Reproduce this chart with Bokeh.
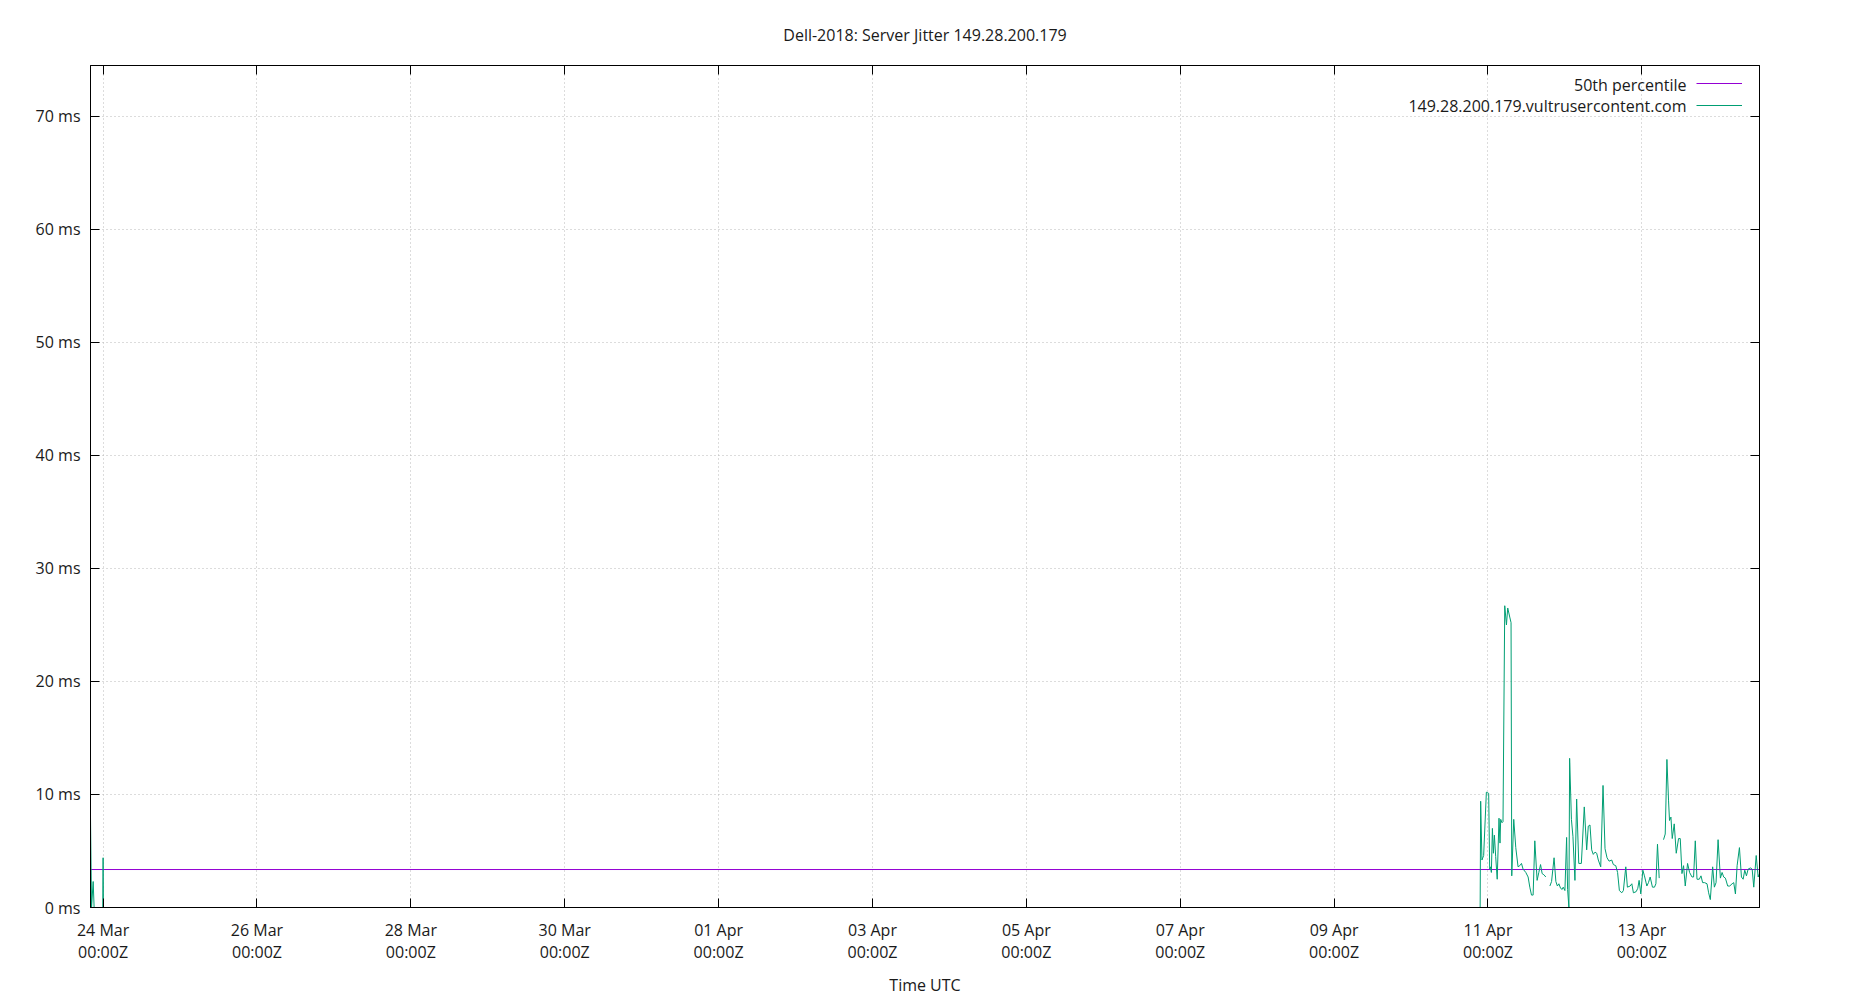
import numpy as np
import pandas as pd
from bokeh.plotting import figure
from bokeh.models import (Range1d, FixedTicker, CustomJSTickFormatter, PrintfTickFormatter,
                          LinearAxis, DatetimeAxis, Legend, LegendItem, Label)
from bokeh.embed import file_html
from bokeh.resources import INLINE

TITLE = "Dell-2018: Server Jitter 149.28.200.179"
HOST = "149.28.200.179.vultrusercontent.com"
MEDIAN_LABEL = "50th percentile"
X_LABEL = "Time UTC"

# Early samples around 24 Mar (hours relative to 24 Mar 00:00Z)
early_origin = "2024-03-24 00:00"
early_hours = [-3.93, -3.6, -3.1, -2.8, -0.1, 0.0, 0.1]
early_ms = [8.0, 0.0, 2.3, 0.0, 0.0, 4.4, 0.0]

# Main samples (hours relative to 11 Apr 00:00Z); None = gap
main_origin = "2024-04-11 00:00"
main_hours = [
    -2.44, -2.28, -1.88, -1.35, -0.50, 0.22, 0.53, 0.84, 1.06, 1.38,
    1.69, 2.00, 2.41, 2.88, 3.44, 3.75, 3.97, 4.38, 4.69, 5.23,
    5.76, 6.16, 6.79, 7.20, 7.42, 8.04, 8.67, 9.39, 9.92, 10.45,
    10.95, 11.80, 12.52, 13.05, 13.58, 14.08, 14.61, 15.33, 15.86, 16.40,
    16.90, 17.43, 18.05, 18.7, 19.31, 19.84, 20.62, 21.18, 21.65, 22.12,
    22.65, 23.15, 23.47, 24.00, 24.53, 24.84, 25.25, 25.47, 26.03, 26.50,
    27.13, 27.66, 28.32, 29.13, 30.04, 30.79, 31.29, 31.82, 32.35, 32.85,
    33.39, 33.92, 34.42, 35.17, 35.89, 36.51, 37.14, 37.77, 38.61, 39.11,
    39.86, 40.43, 40.99, 41.74, 42.24, 42.99, 43.49, 44.34, 44.87, 45.37,
    46.21, 46.74, 47.15, 47.68, 48.31, 48.81, 49.56, 50.06, 50.59, 51.31,
    51.94, 52.38, 52.88, 53.41, 54.0, 54.76, 55.29, 55.82, 56.32, 56.63,
    57.07, 57.48, 58.10, 58.73, 59.45, 59.98, 60.51, 61.01, 61.54, 62.26,
    62.89, 63.64, 64.14, 64.67, 65.20, 65.92, 66.45, 66.96, 67.58, 68.33,
    68.83, 69.36, 70.09, 70.62, 71.15, 71.78, 72.50, 73.03, 73.53, 74.06,
    74.78, 75.41, 76.16, 76.66, 77.19, 77.72, 78.44, 79.07, 79.60, 80.10,
    80.63, 81.16, 81.88, 82.41, 82.91, 83.67, 84.29, 84.70,
]
main_ms = [
    0.0, 9.4, 4.2, 4.6, 10.2, 10.1, 3.4, 3.6, 3.1, 7.0,
    4.8, 6.4, 4.5, 2.5, 7.9, 5.7, 7.8, 7.5, 7.6, 26.7,
    25.0, 26.5, 25.7, 25.2, 2.8, 7.8, 5.3, 3.6, 3.7, 3.9,
    3.4, 3.1, 2.7, 1.8, 1.1, 1.1, 5.9, 2.4, 3.1, 3.8,
    3.0, 2.9, 2.7, None, 1.9, 2.3, 4.4, 2.3, 1.9, 2.1,
    1.7, 1.6, 1.8, 1.5, 6.2, 1.6, 0.0, 13.2, 7.8, 6.3,
    2.4, 9.6, 3.9, 3.9, 8.9, 5.1, 7.2, 7.3, 5.1, 4.7,
    4.9, 4.8, 4.2, 3.6, 10.8, 5.2, 4.4, 4.1, 4.2, 3.8,
    3.7, 3.1, 1.5, 1.3, 1.5, 3.6, 1.8, 1.9, 2.1, 1.3,
    1.4, 1.7, 2.4, 1.2, 3.3, 2.8, 1.9, 2.2, 2.7, 1.8,
    1.8, 2.1, 5.6, 2.6, None, 6.0, 6.5, 13.1, 9.5, 7.7,
    8.0, 6.1, 7.4, 4.8, 6.1, 6.1, 3.0, 3.7, 1.9, 3.9,
    3.1, 2.7, 2.7, 5.9, 2.5, 2.5, 2.8, 2.2, 2.2, 2.1,
    1.3, 0.7, 3.6, 1.8, 2.2, 6.0, 2.6, 3.1, 2.7, 2.6,
    1.9, 1.9, 2.1, 2.2, 1.2, 3.7, 5.3, 2.7, 2.5, 3.3,
    2.8, 3.4, 3.5, 3.4, 1.8, 4.6, 2.7, 3.0,
]
median_ms = 3.36

x_tick_dates = ["2024-03-24", "2024-03-26", "2024-03-28", "2024-03-30", "2024-04-01",
                "2024-04-03", "2024-04-05", "2024-04-07", "2024-04-09", "2024-04-11",
                "2024-04-13"]
y_ticks = [0, 10, 20, 30, 40, 50, 60, 70]
y_max = 74.5

FONT = "Open Sans"
FS = "16px"
TXT = "#1a1a1a"
GREEN = "#009e73"
PURPLE = "#9400d3"

# ---- build series ----
t_early = pd.Timestamp(early_origin) + pd.to_timedelta(early_hours, unit="h")
t_main = pd.Timestamp(main_origin) + pd.to_timedelta(main_hours, unit="h")
t_gap = t_early[-1] + (t_main[0] - t_early[-1]) / 2
times = list(t_early) + [t_gap] + list(t_main)
vals = early_ms + [None] + main_ms
vals = np.array([np.nan if v is None else v for v in vals], dtype=float)
times = pd.to_datetime(times)

t0, t1 = times.min(), times.max()

FRAME_W, FRAME_H = 1669, 842
p = figure(x_axis_type="datetime", frame_width=FRAME_W, frame_height=FRAME_H,
           min_border_left=90, min_border_right=75, min_border_top=65, min_border_bottom=80,
           output_backend="svg", toolbar_location=None,
           x_range=Range1d(t0, t1), y_range=Range1d(0, y_max))
p.background_fill_color = "white"
p.border_fill_color = "white"
p.outline_line_color = "black"
p.outline_line_width = 1

p.title.text = TITLE
p.title.align = "center"
p.title.text_font = FONT
p.title.text_font_size = FS
p.title.text_font_style = "normal"
p.title.text_color = TXT
p.title.standoff = 39

xticks = [pd.Timestamp(d).value / 1e6 for d in x_tick_dates]
xticker = FixedTicker(ticks=xticks)
yticker = FixedTicker(ticks=y_ticks)

xfmt = CustomJSTickFormatter(code="""
const d = new Date(tick);
const M = ["Jan","Feb","Mar","Apr","May","Jun","Jul","Aug","Sep","Oct","Nov","Dec"];
const dd = String(d.getUTCDate()).padStart(2, "0");
const hh = String(d.getUTCHours()).padStart(2, "0");
const mi = String(d.getUTCMinutes()).padStart(2, "0");
return dd + " " + M[d.getUTCMonth()] + "\\n" + hh + ":" + mi + "Z";
""")
blank = CustomJSTickFormatter(code="return '';")


def style_axis(ax):
    ax.axis_line_color = "black"
    ax.axis_line_width = 1
    ax.major_tick_line_color = "black"
    ax.major_tick_line_width = 1
    ax.major_tick_in = 9
    ax.major_tick_out = 0
    ax.minor_tick_line_color = None
    ax.major_label_text_font = FONT
    ax.major_label_text_font_size = FS
    ax.major_label_text_color = TXT


xa = p.xaxis[0]
xa.ticker = xticker
xa.formatter = xfmt
style_axis(xa)
xa.major_label_standoff = 11
xa.major_label_text_line_height = 1.0
xa.axis_label = X_LABEL
xa.axis_label_text_font = FONT
xa.axis_label_text_font_size = FS
xa.axis_label_text_font_style = "normal"
xa.axis_label_text_color = TXT
xa.axis_label_standoff = 8

ya = p.yaxis[0]
ya.ticker = yticker
ya.formatter = PrintfTickFormatter(format="%d ms")
style_axis(ya)
ya.major_label_standoff = 10

top = DatetimeAxis(ticker=xticker, formatter=blank)
style_axis(top)
top.major_label_text_font_size = "0px"
top.major_label_standoff = 0
p.add_layout(top, "above")

right = LinearAxis(ticker=yticker, formatter=blank)
style_axis(right)
right.major_label_text_font_size = "0px"
right.major_label_standoff = 0
p.add_layout(right, "right")

for g in (p.xgrid[0], p.ygrid[0]):
    g.grid_line_color = "#b8b8b8"
    g.grid_line_dash = "1 3"
    g.grid_line_width = 1
p.xgrid[0].ticker = xticker
p.ygrid[0].ticker = yticker

r_med = p.line(x=[t0, t1], y=[median_ms, median_ms], line_color=PURPLE, line_width=1)
r_host = p.line(x=times, y=vals, line_color=GREEN, line_width=1)

legend = Legend(items=[LegendItem(label=" ", renderers=[r_med]),
                       LegendItem(label=" ", renderers=[r_host])],
                location=(1606, FRAME_H - 51), orientation="vertical",
                glyph_width=46, glyph_height=22, label_height=22, label_width=0,
                label_standoff=0, padding=0, margin=0, spacing=0,
                border_line_color=None, background_fill_alpha=0,
                label_text_font_size="1px")
p.add_layout(legend)

for txt, yy in ((MEDIAN_LABEL, FRAME_H - 19), (HOST, FRAME_H - 40.5)):
    p.add_layout(Label(x=1596, y=yy, x_units="screen", y_units="screen", text=txt,
                       text_align="right", text_baseline="middle", text_font=FONT,
                       text_font_size=FS, text_color=TXT))

open("out.html", "w").write(file_html(p, INLINE))
